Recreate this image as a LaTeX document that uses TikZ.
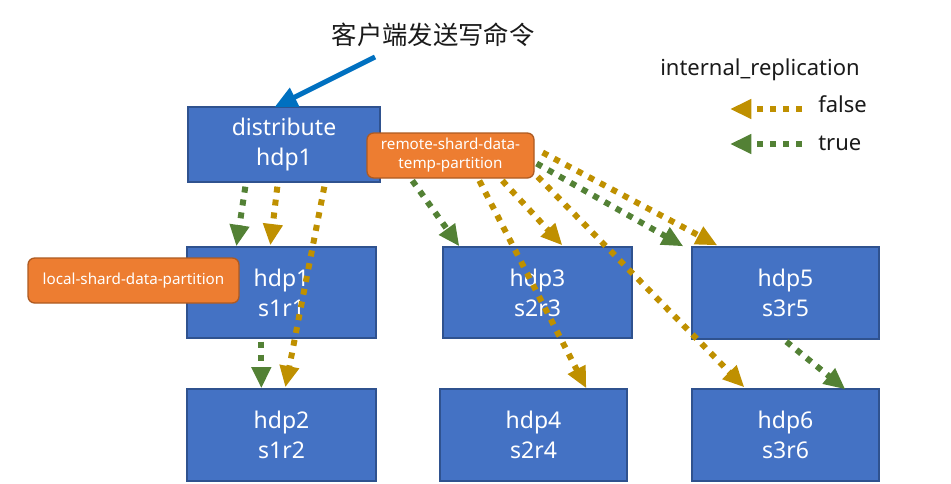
\documentclass[tikz,border=0pt]{standalone}
\usepackage{fontspec}
\setmainfont{Noto Sans}
\newfontfamily\cjk{Noto Sans CJK SC}
\newfontfamily\legendfont{Noto Sans}
\usetikzlibrary{arrows.meta,calc}
\definecolor{boxblue}{HTML}{4472C4}
\definecolor{boxedge}{HTML}{2F528F}
\definecolor{orangefill}{HTML}{ED7D31}
\definecolor{orangeedge}{HTML}{AE5A21}
\definecolor{goldc}{HTML}{BF9000}
\definecolor{greenc}{HTML}{538135}
\definecolor{arrowblue}{HTML}{0070C0}
\definecolor{inkc}{HTML}{1A1A1A}
\begin{document}
\begin{tikzpicture}[x=0.75pt,y=-0.75pt,
 hostbox/.style={draw=boxedge, line width=1pt, fill=boxblue, text=white, align=center,
   font=\fontsize{17.25}{22.5}\selectfont, inner sep=0pt},
 tagbox/.style={draw=orangeedge, line width=1pt, fill=orangefill, rounded corners=5pt,
   text=white, align=center, font=\fontsize{11.4}{14.3}\selectfont, inner sep=0pt},
 dotline/.style={line width=4.5pt, dash pattern=on 4.5pt off 5.25pt,
   -{Triangle[length=16pt,width=14pt]}},
 goldline/.style={dotline, draw=goldc},
 greenline/.style={dotline, draw=greenc},
 legendtext/.style={text=inkc, font=\legendfont\fontsize{16.5}{18}\selectfont, inner sep=0pt}
]
\useasboundingbox (0,0) rectangle (951,483);

% host boxes
\node[hostbox, minimum width=144pt, minimum height=56.25pt] (dist) at (284,144.5) {distribute\\hdp1};
\node[hostbox, minimum width=141.75pt, minimum height=68.25pt] (h1) at (281.5,292.5) {hdp1\\s1r1};
\node[hostbox, minimum width=141.75pt, minimum height=69pt] (h2) at (281.5,435) {hdp2\\s1r2};
\node[hostbox, minimum width=141.75pt, minimum height=68.25pt] (h3) at (537.5,292.5) {hdp3\\s2r3};
\node[hostbox, minimum width=140.25pt, minimum height=69pt] (h4) at (533.5,435) {hdp4\\s2r4};
\node[hostbox, minimum width=140.25pt, minimum height=69pt] (h5) at (785.5,293) {hdp5\\s3r5};
\node[hostbox, minimum width=140.25pt, minimum height=69pt] (h6) at (785.5,435) {hdp6\\s3r6};

% tag boxes
\node[tagbox, minimum width=125.25pt, minimum height=33.75pt] (remote) at (450.5,155.5) {remote-shard-data-\\temp-partition};
\node[tagbox, minimum width=158.25pt, minimum height=33.75pt] (local) at (133.5,280.5) {local-shard-data-partition};

% title and client arrow
\node[text=inkc, font=\cjk\fontsize{19}{22}\selectfont, inner sep=0pt] (title) at (433,35) {客户端发送写命令};
\coordinate (cstart) at (375,57);
\draw[draw=arrowblue, line width=3.75pt, -{Triangle[length=17pt,width=15pt]}] (cstart) -- ($(dist.north west)+(87,1)$);

% legend
\node[legendtext] (legtitle) at (760,70) {internal\_replication};
\node[legendtext, anchor=west] (legfalse) at (818,104) {false};
\node[legendtext, anchor=west] (legtrue) at (818,143) {true};
\draw[goldline] ($(legfalse.west)+(-16,5)$) -- ($(legfalse.west)+(-88,5)$);
\draw[greenline] ($(legtrue.west)+(-16,1)$) -- ($(legtrue.west)+(-88,1)$);

% distribute -> local replicas
\draw[greenline] ($(dist.south west)+(58,4)$) -- ($(h1.north west)+(50,0)$);
\draw[goldline] ($(dist.south west)+(90,4)$) -- ($(h1.north west)+(84,-1)$);
\draw[goldline] ($(dist.south west)+(137,4)$) -- ($(h2.north west)+(99,-1)$);
\draw[greenline] ($(h1.south west)+(75,3)$) -- ($(h2.north west)+(75,0)$);

% remote shards
\draw[greenline] ($(remote.south west)+(46,2)$) -- ($(h3.north west)+(17,0)$);
\draw[goldline] ($(remote.south west)+(113,2)$) -- ($(h4.north west)+(147,0)$);
\draw[goldline] ($(remote.south west)+(136,2)$) -- ($(h3.north west)+(120,-1)$);
\draw[goldline] ($(remote.south east)+(3,-2)$) -- ($(h6.north west)+(53,-1)$);
\draw[greenline] ($(remote.east)+(2,8)$) -- ($(h5.north west)+(-8,0)$);
\draw[goldline] ($(remote.east)+(8,-3)$) -- ($(h5.north west)+(26,-1)$);
\draw[greenline] ($(h5.south west)+(95,2)$) -- ($(h6.north west)+(154,1)$);
\end{tikzpicture}
\end{document}
